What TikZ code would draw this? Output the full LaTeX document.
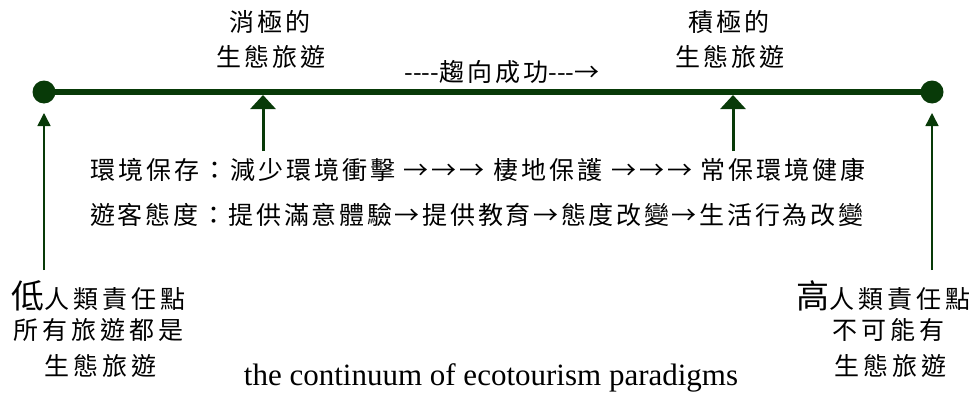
\documentclass[tikz,border=0pt]{standalone}
\usepackage{fontspec}
\setmainfont{Liberation Serif}
\newfontfamily\cjk[LetterSpace=12]{Noto Sans CJK TC}
\newfontfamily\cjkr[LetterSpace=10.8]{Noto Sans CJK TC}
\newfontfamily\cjkw[LetterSpace=16]{Noto Sans CJK TC}
\newfontfamily\cjkn{Noto Sans CJK TC}
\usetikzlibrary{arrows.meta}
\definecolor{dgreen}{RGB}{8,58,8}
\tikzset{
  lbl/.style={inner sep=0pt, font=\cjk\fontsize{25}{28}\selectfont},
  lblr/.style={inner sep=0pt, font=\cjkr\fontsize{25}{28}\selectfont},
  lblw/.style={inner sep=0pt, font=\cjkw\fontsize{25}{28}\selectfont},
  dot/.style={circle, fill=dgreen, minimum size=23pt, inner sep=0pt},
  axis/.style={draw=dgreen, line width=6.5pt},
  bigarrow/.style={draw=dgreen, line width=3pt, -{Triangle[width=25pt,length=14pt]}},
  thinarrow/.style={draw=dgreen, line width=1.5pt, -{Triangle[width=13pt,length=13pt]}},
}
\begin{document}
\begin{tikzpicture}[x=1pt,y=-1pt]
\useasboundingbox (0,0) rectangle (969,396);
% axis
\node[dot] (L) at (44,92) {};
\node[dot] (R) at (932,92) {};
\draw[axis] (L.center) -- (R.center);
% top labels
\node[lbl] (neg1) at (270,22) {消極的};
\node[lbl] (neg2) at (271,57) {生態旅遊};
\node[lbl] (pos1) at (729,22) {積極的};
\node[lbl] (pos2) at (730,57) {生態旅遊};
\node[lbl] (trend) at (502,72) {{\cjkn ----}趨向成功{\cjkn ---→}};
% rows
\node[lbl, anchor=west] (row1) at (90,170) {環境保存：減少環境衝擊 →→→ 棲地保護 →→→ 常保環境健康};
\node[lblr, anchor=west] (row2) at (90,215) {遊客態度：提供滿意體驗→提供教育→態度改變→生活行為改變};
% arrows to axis
\coordinate (a1b) at (263,151);
\coordinate (a1t) at (263,95);
\coordinate (a2b) at (733,151);
\coordinate (a2t) at (733,95);
\draw[bigarrow] (a1b) -- (a1t);
\draw[bigarrow] (a2b) -- (a2t);
\coordinate (lb) at (44,270);
\coordinate (lt) at (44,113);
\coordinate (rb) at (932,270);
\coordinate (rt) at (932,113);
\draw[thinarrow] (lb) -- (lt);
\draw[thinarrow] (rb) -- (rt);
% bottom left
\node[lblw, anchor=west] (low) at (11,296) {{\fontsize{33}{33}\selectfont 低}人類責任點};
\node[lblw] (low2) at (98,330) {所有旅遊都是};
\node[lblw] (low3) at (100,366) {生態旅遊};
% bottom right
\node[lblw, anchor=west] (high) at (796,296) {{\fontsize{33}{33}\selectfont 高}人類責任點};
\node[lblw] (high2) at (888,330) {不可能有};
\node[lblw] (high3) at (890,366) {生態旅遊};
% caption
\node[inner sep=0pt, font=\fontsize{31}{34}\selectfont] (cap) at (491,378) {the continuum of ecotourism paradigms};
\end{tikzpicture}
\end{document}
